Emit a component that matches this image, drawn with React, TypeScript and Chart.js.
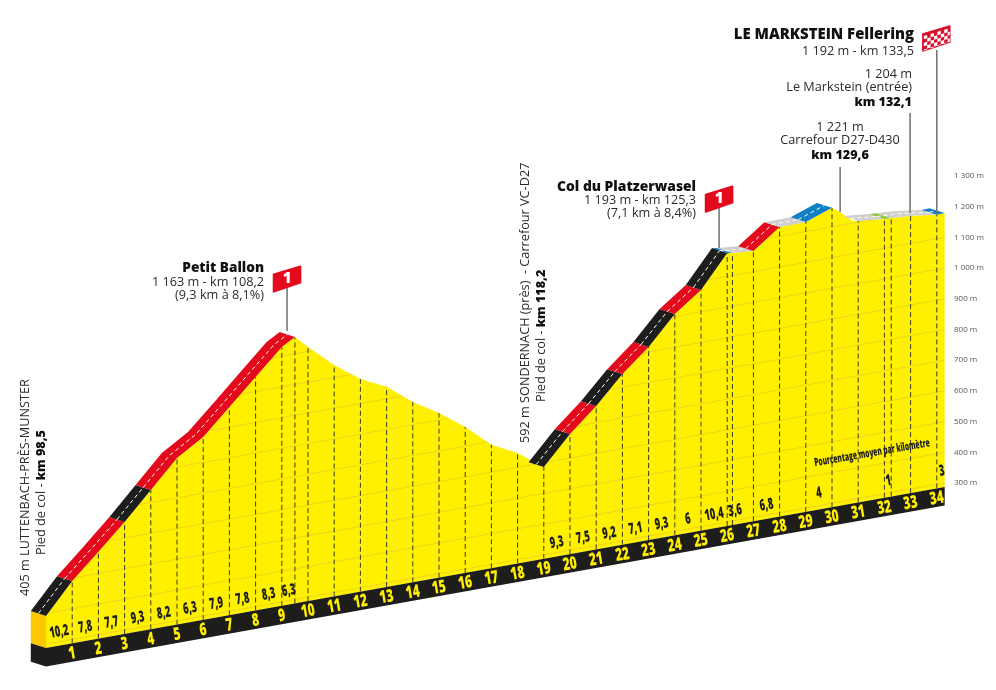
import React, { useEffect, useRef } from "react";
import { Chart, registerables } from "chart.js";

Chart.register(...registerables);

// ---------- data (km from the foot of the climb, altitude in m)
const profileKm = [0, 1, 2, 3, 4, 5, 6, 7, 8, 9, 9.5, 10, 11, 12, 13, 14, 15, 16, 17, 18, 18.5, 19, 20, 21, 22, 23, 24, 25, 26, 26.2, 27, 28, 29, 30, 30.3, 30.8, 31, 32, 32.26, 33, 34, 34.3];
const profileAlt = [392, 490, 570, 652, 741, 830, 883, 965, 1048, 1130, 1155, 1115, 1041, 980, 939, 874, 823, 762, 689, 647, 617, 586, 678, 754, 843, 916, 1008, 1071, 1176, 1173, 1167, 1230, 1231, 1262, 1244, 1207, 1204, 1195, 1194, 1190, 1178, 1179];

const roadFrom = [0, 1, 3, 4, 19, 20, 21, 22, 23, 24, 25, 26, 26.2, 27, 28, 29, 31, 32, 32.26, 34];
const roadTo = [1, 3, 4, 9.5, 20, 21, 22, 23, 24, 25, 26, 26.2, 27, 28, 29, 30, 32, 32.26, 34, 34.3];
const roadKind = ["k", "r", "k", "r", "k", "r", "k", "r", "k", "r", "k", "b", "g", "r", "g", "b", "g", "v", "g", "b"];

const kmLabels = Array.from({ length: 34 }, (_, i) => i + 1);
const extraDashKm = [9.5, 26.2, 32.26];
const gridAlts = [300, 400, 500, 600, 700, 800, 900, 1000, 1100, 1200];
const yTickValues = [300, 400, 500, 600, 700, 800, 900, 1000, 1100, 1200, 1300];

const gradeKm = [0.5, 1.5, 2.5, 3.5, 4.5, 5.5, 6.5, 7.5, 8.5, 9.27, 19.5, 20.5, 21.5, 22.5, 23.5, 24.5, 25.5, 26.3, 27.5, 29.5, 32.15, 34.2];
const gradeText = ["10,2", "7,8", "7,7", "9,3", "8,2", "6,3", "7,9", "7,8", "8,3", "6,3", "9,3", "7,5", "9,2", "7,1", "9,3", "6", "10,4", "3,6", "6,8", "4", "1", "3"];
const gradeAlt = [332, 332, 332, 332, 332, 332, 332, 332, 332, 332, 332, 332, 332, 332, 332, 332, 332, 332, 332, 340, 340, 340];

const poleKm = [9.2, 25.69, 30.31, 32.98, 34];
const poleBase = [1179, 1197, 1244, 1200, 1181];
const poleTop = [1329, 1337, 1390, 1525, 1715];

const BASE_ALT = 287;
const BAND_ALT = 227;

// ---------- projection of the oblique drawing
const AXIS_KM = 34.3;
const SKEW = 15.3;
const DEPTH_KM = 0.58;
const DEPTH_M = 16;
const proj = (km: number, alt: number) => alt + SKEW * (km - AXIS_KM);

const colors: Record<string, string> = { k: "#1d1d1b", r: "#e30a1c", b: "#1280c4", g: "#cfcfcb", v: "#8cc63f" };
const YELLOW = "#fff000";

type P = { x: number; y: number };
const polygonDs = (data: P[], color: string, extra: any = {}) => ({
  data, polyFill: color, showLine: true, borderWidth: 0, borderColor: "transparent", pointRadius: 0, ...extra,
});
const lineDs = (data: P[], color: string, width: number, dash: number[] = [], extra: any = {}) => ({
  data, showLine: true, borderWidth: width, borderColor: color, borderDash: dash, pointRadius: 0, tension: 0, ...extra,
});

function buildDatasets() {
  const front: P[] = profileKm.map((k, i) => ({ x: k, y: proj(k, profileAlt[i]) }));
  const list: any[] = [];
  // yellow body
  list.push(polygonDs([...front, { x: AXIS_KM, y: proj(AXIS_KM, BASE_ALT) }, { x: 0, y: proj(0, BASE_ALT) }], YELLOW, { isBody: true, label: "profile" }));
  // altitude lines
  gridAlts.forEach((a) =>
    list.push(lineDs([{ x: 0, y: proj(0, a) }, { x: AXIS_KM, y: proj(AXIS_KM, a) }], "#ecd61c", 1, [], { clipBody: true }))
  );
  // kilometre dashes
  [...kmLabels, ...extraDashKm].forEach((k) =>
    list.push(lineDs([{ x: k, y: proj(k, BASE_ALT) }, { x: k, y: proj(k, 1500) }], "#3a3a20", 1, [5, 3], { clipBody: true }))
  );
  // base band
  list.push(polygonDs([
    { x: 0, y: proj(0, BASE_ALT) }, { x: AXIS_KM, y: proj(AXIS_KM, BASE_ALT) },
    { x: AXIS_KM, y: proj(AXIS_KM, BAND_ALT) }, { x: 0, y: proj(0, BAND_ALT) },
  ], "#1d1d1b"));
  // left faces
  const startAlt = profileAlt[0];
  const bx = -DEPTH_KM;
  list.push(polygonDs([
    { x: 0, y: proj(0, startAlt) }, { x: 0, y: proj(0, BASE_ALT) },
    { x: bx, y: proj(0, BASE_ALT) + DEPTH_M }, { x: bx, y: proj(0, startAlt) + DEPTH_M },
  ], "#fdc800"));
  list.push(polygonDs([
    { x: 0, y: proj(0, BASE_ALT) }, { x: 0, y: proj(0, BAND_ALT) },
    { x: bx, y: proj(0, BAND_ALT) + DEPTH_M }, { x: bx, y: proj(0, BASE_ALT) + DEPTH_M },
  ], "#1d1d1b"));
  // road
  roadFrom.forEach((from, s) => {
    const pts = front.filter((p) => p.x >= from && p.x <= roadTo[s]);
    const back = pts.map((p) => ({ x: p.x - DEPTH_KM, y: p.y + DEPTH_M }));
    list.push(polygonDs([...pts, ...back.reverse()], colors[roadKind[s]]));
  });
  roadFrom.forEach((from, s) => {
    const pts = front.filter((p) => p.x >= from && p.x <= roadTo[s]);
    const mid = pts.map((p) => ({ x: p.x - DEPTH_KM / 2, y: p.y + DEPTH_M / 2 }));
    list.push(lineDs(mid, "#ffffff", 1, [4, 3]));
  });
  // poles
  poleKm.forEach((k, i) =>
    list.push(lineDs([{ x: k, y: proj(k, poleBase[i]) }, { x: k, y: proj(k, poleTop[i]) }], "#6f6f6f", 1.5))
  );
  return list.reverse(); // Chart.js paints the first dataset last
}

const FONT = '"Open Sans", "Noto Sans", sans-serif';
const TEXT = "#2b2b2b";
const REG = 12.7;
const BOLD = 12.6;

function rightText(ctx: CanvasRenderingContext2D, t: string, x: number, y: number, bold = false, size = REG, align: CanvasTextAlign = "right") {
  ctx.font = `${bold ? "800 " : ""}${size}px ${FONT}`;
  ctx.fillStyle = bold ? "#111" : TEXT;
  ctx.textAlign = align;
  ctx.textBaseline = "middle";
  ctx.fillText(t, x, y);
}

function vertical(ctx: CanvasRenderingContext2D, runs: [string, boolean][], x: number, y: number) {
  ctx.save();
  ctx.translate(x, y);
  ctx.rotate(-Math.PI / 2);
  ctx.textAlign = "left";
  ctx.textBaseline = "middle";
  let cx = 0;
  runs.forEach(([t, b]) => {
    ctx.font = `${b ? "800 " + BOLD : REG}px ${FONT}`;
    ctx.fillStyle = b ? "#111" : TEXT;
    ctx.fillText(t, cx, 0);
    cx += ctx.measureText(t).width;
  });
  ctx.restore();
}

function slanted(ctx: CanvasRenderingContext2D, t: string, x: number, y: number, size: number, sx: number, color: string) {
  ctx.save();
  ctx.translate(x, y);
  ctx.rotate(-0.172);
  ctx.scale(sx, 1);
  ctx.font = `800 ${size}px ${FONT}`;
  ctx.fillStyle = color;
  ctx.textAlign = "center";
  ctx.textBaseline = "middle";
  ctx.fillText(t, 0, 0);
  ctx.restore();
}

function flagPath(ctx: CanvasRenderingContext2D, x: number, y: number, pts: number[][]) {
  ctx.beginPath();
  pts.forEach(([dx, dy], i) => (i ? ctx.lineTo(x + dx, y + dy) : ctx.moveTo(x + dx, y + dy)));
  ctx.closePath();
}

const RED_FLAG = [[-14, -11], [14, -19.5], [14, -2.5], [-14, 7]];
const CHECK_FLAG = [[-14, -16], [13, -24], [13, -8], [-14, 1]];

function tracePolygon(chart: any, index: number) {
  const pts = chart.getDatasetMeta(index).data;
  const ctx = chart.ctx;
  ctx.beginPath();
  pts.forEach((p: any, i: number) => (i ? ctx.lineTo(p.x, p.y) : ctx.moveTo(p.x, p.y)));
  ctx.closePath();
}

const shapes = {
  id: "shapes",
  beforeDatasetDraw(chart: any, args: any) {
    const ds = chart.data.datasets[args.index];
    const ctx = chart.ctx;
    if (ds.polyFill) {
      tracePolygon(chart, args.index);
      ctx.fillStyle = ds.polyFill;
      ctx.fill();
    }
    if (ds.clipBody) {
      const bodyIndex = chart.data.datasets.findIndex((d: any) => d.isBody);
      ctx.save();
      tracePolygon(chart, bodyIndex);
      ctx.clip();
    }
  },
  afterDatasetDraw(chart: any, args: any) {
    if (chart.data.datasets[args.index].clipBody) chart.ctx.restore();
  },
  afterDatasetsDraw(chart: any) {
    const ctx: CanvasRenderingContext2D = chart.ctx;
    const X = chart.scales.x;
    const Y = chart.scales.y;
    const px = (k: number) => X.getPixelForValue(k);
    const py = (k: number, a: number) => Y.getPixelForValue(proj(k, a));

    // altitude tick labels, read through the y scale at the right edge of the profile
    yTickValues.forEach((v) => {
      const t = v >= 1000 ? `1 ${String(v).slice(1)} m` : `${v} m`;
      ctx.font = `8px ${FONT}`;
      ctx.fillStyle = "#555";
      ctx.textAlign = "left";
      ctx.textBaseline = "middle";
      ctx.fillText(t, 954, Y.getPixelForValue(v));
    });

    // km numbers in the band
    kmLabels.forEach((k) => {
      slanted(ctx, String(k), px(k), py(k, (BASE_ALT + BAND_ALT) / 2) + 1, 17.5, 0.68, "#ffee00");
    });
    // gradients
    gradeKm.forEach((k, i) => slanted(ctx, gradeText[i], px(k), py(k, gradeAlt[i]), 15.5, 0.6, "#1d1d1b"));
    slanted(ctx, "Pourcentage moyen par kilomètre", 872, 453, 11.5, 0.575, "#1d1d1b");

    // flags
    [0, 1].forEach((i) => {
      const x = px(poleKm[i]);
      const y = py(poleKm[i], poleTop[i]);
      ctx.save();
      ctx.lineJoin = "round";
      ctx.lineWidth = 2;
      ctx.strokeStyle = "#e30a1c";
      ctx.fillStyle = "#e30a1c";
      flagPath(ctx, x, y, RED_FLAG.map(([a, b]) => [a * 0.95, b * 0.95]));
      ctx.fill();
      ctx.stroke();
      ctx.font = `800 15px ${FONT}`;
      ctx.fillStyle = "#fff";
      ctx.textAlign = "center";
      ctx.textBaseline = "middle";
      ctx.fillText("1", x, y - 6);
      ctx.restore();
    });
    {
      const x = px(poleKm[4]);
      const y = py(poleKm[4], poleTop[4]);
      ctx.save();
      ctx.lineJoin = "round";
      ctx.lineWidth = 1.5;
      ctx.strokeStyle = "#d8112b";
      ctx.fillStyle = "#d8112b";
      flagPath(ctx, x, y, CHECK_FLAG);
      ctx.fill();
      ctx.stroke();
      ctx.clip();
      ctx.fillStyle = "#ffffff";
      const cell = 3.4;
      for (let c = 0; c < 8; c++) {
        for (let r = 0; r < 5; r++) {
          if ((c + r) % 2) continue;
          const cx = x - 13 + c * cell;
          const cy = y - 14 - c * cell * 0.3 + r * cell;
          ctx.beginPath();
          ctx.moveTo(cx, cy);
          ctx.lineTo(cx + cell, cy - cell * 0.3);
          ctx.lineTo(cx + cell, cy - cell * 0.3 + cell);
          ctx.lineTo(cx, cy + cell);
          ctx.closePath();
          ctx.fill();
        }
      }
      ctx.restore();
    }

    // annotations
    rightText(ctx, "Petit Ballon", 264, 268, true, 13.6);
    rightText(ctx, "1 163 m - km 108,2", 264, 282);
    rightText(ctx, "(9,3 km à 8,1%)", 264, 295);

    rightText(ctx, "Col du Platzerwasel", 696, 187, true, 13.8);
    rightText(ctx, "1 193 m - km 125,3", 696, 200.5);
    rightText(ctx, "(7,1 km à 8,4%)", 696, 213.5);

    rightText(ctx, "LE MARKSTEIN Fellering", 914, 35, true, 14.9);
    rightText(ctx, "1 192 m - km 133,5", 914, 51);

    rightText(ctx, "1 204 m", 912, 74);
    rightText(ctx, "Le Markstein (entrée)", 912, 87);
    rightText(ctx, "km 132,1", 912, 102, true, BOLD);

    rightText(ctx, "1 221 m", 840, 127, false, REG, "center");
    rightText(ctx, "Carrefour D27-D430", 840, 140, false, REG, "center");
    rightText(ctx, "km 129,6", 840, 155, true, BOLD, "center");

    vertical(ctx, [["405 m LUTTENBACH-PRÈS-MUNSTER", false]], 25.5, 596);
    vertical(ctx, [["Pied de col - ", false], ["km 98,5", true]], 41, 555);
    vertical(ctx, [["592 m SONDERNACH (près)  - Carrefour VC-D27", false]], 525, 443);
    vertical(ctx, [["Pied de col - ", false], ["km 118,2", true]], 541, 402);
  },
};

export default function App() {
  const ref = useRef<HTMLCanvasElement>(null);
  useEffect(() => {
    document.body.style.margin = "0";
    const chart = new Chart(ref.current as HTMLCanvasElement, {
      type: "scatter",
      data: { datasets: buildDatasets() as any },
      plugins: [shapes as any],
      options: {
        animation: false,
        responsive: false,
        layout: { padding: 0 },
        events: [],
        plugins: { legend: { display: false }, tooltip: { enabled: false }, title: { display: false } },
        scales: {
          x: { type: "linear", display: false, min: -46 / 26.2, max: 950 / 26.2 },
          y: { type: "linear", display: false, min: -374.2, max: 1873.1 },
        },
      } as any,
    });
    return () => chart.destroy();
  }, []);
  return <canvas ref={ref} width={996} height={690} style={{ display: "block" }} />;
}
